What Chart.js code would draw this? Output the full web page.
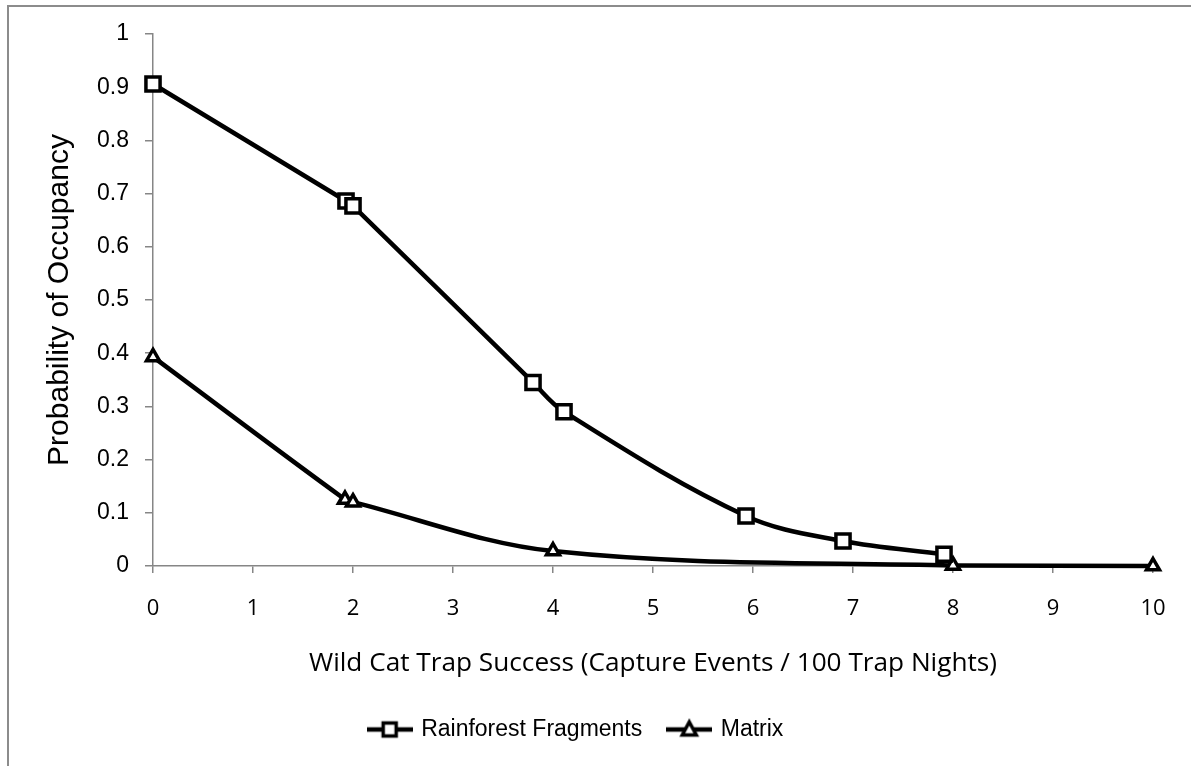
<!DOCTYPE html>
<html>
<head>
<meta charset="utf-8">
<script src="https://cdn.jsdelivr.net/npm/chart.js@4/dist/chart.umd.min.js"></script>
<style>
body { margin: 0; background: #fff; }
#wrap { position: relative; width: 1191px; height: 766px; }
#frame { position: absolute; left: 7px; top: 5px; right: -5px; bottom: -5px; border-left: 2px solid #8c8c8c; border-top: 2px solid #8c8c8c; pointer-events: none; }
</style>
</head>
<body>
<div id="wrap"><canvas id="occChart" width="1191" height="766"></canvas><div id="frame"></div></div>
<script>
// values
const forestX = [0, 1.93, 2.0, 3.8, 4.11, 5.93, 6.9, 7.91];
const forestY = [0.906, 0.686, 0.677, 0.345, 0.29, 0.094, 0.047, 0.022];
const matrixX = [0, 1.92, 2.0, 4.0, 8.0, 10.0];
const matrixY = [0.393, 0.125, 0.12, 0.028, 0.001, 0.0];
const seriesNames = ['Rainforest Fragments', 'Matrix'];
const xTitle = 'Wild Cat Trap Success (Capture Events / 100 Trap Nights)';
const yTitle = 'Probability of Occupancy';

const axisGray = '#868686';

function toPoints(xs, ys) {
    return xs.map((x, i) => ({x: x, y: ys[i]}));
}

// little line + marker picture for the legend
function legendIcon(kind) {
    const c = document.createElement('canvas');
    c.width = 46;
    c.height = 24;
    const ctx = c.getContext('2d');
    ctx.strokeStyle = '#000';
    ctx.lineWidth = 4.5;
    ctx.beginPath();
    ctx.moveTo(0, 12);
    ctx.lineTo(46, 12);
    ctx.stroke();
    ctx.fillStyle = '#fff';
    ctx.lineWidth = 3.5;
    ctx.beginPath();
    if (kind == 'rect') {
        ctx.rect(16.5, 5.5, 13, 13);
    } else {
        ctx.moveTo(23, 4.5);
        ctx.lineTo(30, 17.5);
        ctx.lineTo(16, 17.5);
        ctx.closePath();
    }
    ctx.fill();
    ctx.stroke();
    return c;
}
const icons = [legendIcon('rect'), legendIcon('triangle')];

new Chart('occChart', {
    type: 'line',
    data: {
        datasets: [{
            label: seriesNames[0],
            data: toPoints(forestX, forestY),
            borderColor: '#000',
            borderWidth: 4.5,
            tension: 0.35,
            pointStyle: 'rect',
            pointRadius: 10,
            pointBorderWidth: 3.5,
            pointBackgroundColor: '#fff',
            pointBorderColor: '#000',
            clip: false
        }, {
            label: seriesNames[1],
            data: toPoints(matrixX, matrixY),
            borderColor: '#000',
            borderWidth: 4.5,
            tension: 0.35,
            pointStyle: 'triangle',
            pointRadius: 7.5,
            pointBorderWidth: 3.5,
            pointBackgroundColor: '#fff',
            pointBorderColor: '#000',
            clip: false
        }]
    },
    options: {
        responsive: false,
        animation: false,
        layout: {padding: {left: 0, right: 38, top: 34, bottom: 15}},
        scales: {
            x: {
                type: 'linear',
                min: 0,
                max: 10,
                ticks: {stepSize: 1, color: '#000', padding: 23, font: {family: 'Open Sans', size: 22}},
                grid: {drawOnChartArea: false, color: axisGray, tickLength: 7, lineWidth: 1.5},
                border: {color: axisGray, width: 1.5},
                title: {display: true, text: xTitle, color: '#000', padding: {top: 0, bottom: 12}, font: {family: 'Open Sans', size: 26.2}},
                afterFit: scale => { scale.height = 125; }
            },
            y: {
                min: 0,
                max: 1,
                ticks: {stepSize: 0.1, color: '#000', padding: 16, font: {family: 'Liberation Sans', size: 23},
                    callback: v => +v.toFixed(1)},
                grid: {drawOnChartArea: false, color: axisGray, tickLength: 8, lineWidth: 1.5},
                border: {color: axisGray, width: 1.5},
                title: {display: true, text: yTitle, color: '#000', padding: {top: 42, bottom: 0}, font: {family: 'Liberation Sans', size: 30}},
                afterFit: scale => { scale.width = 153; }
            }
        },
        plugins: {
            tooltip: {enabled: false},
            legend: {
                position: 'bottom',
                labels: {
                    usePointStyle: true,
                    pointStyleWidth: 40,
                    padding: 27,
                    color: '#000',
                    font: {family: 'Liberation Sans', size: 23},
                    generateLabels: chart => chart.data.datasets.map((ds, i) => ({
                        text: ds.label,
                        pointStyle: icons[i],
                        datasetIndex: i,
                        hidden: false,
                        lineWidth: 0,
                        fillStyle: '#fff',
                        strokeStyle: '#fff',
                        fontColor: '#000'
                    }))
                }
            }
        }
    }
});
</script>
</body>
</html>
